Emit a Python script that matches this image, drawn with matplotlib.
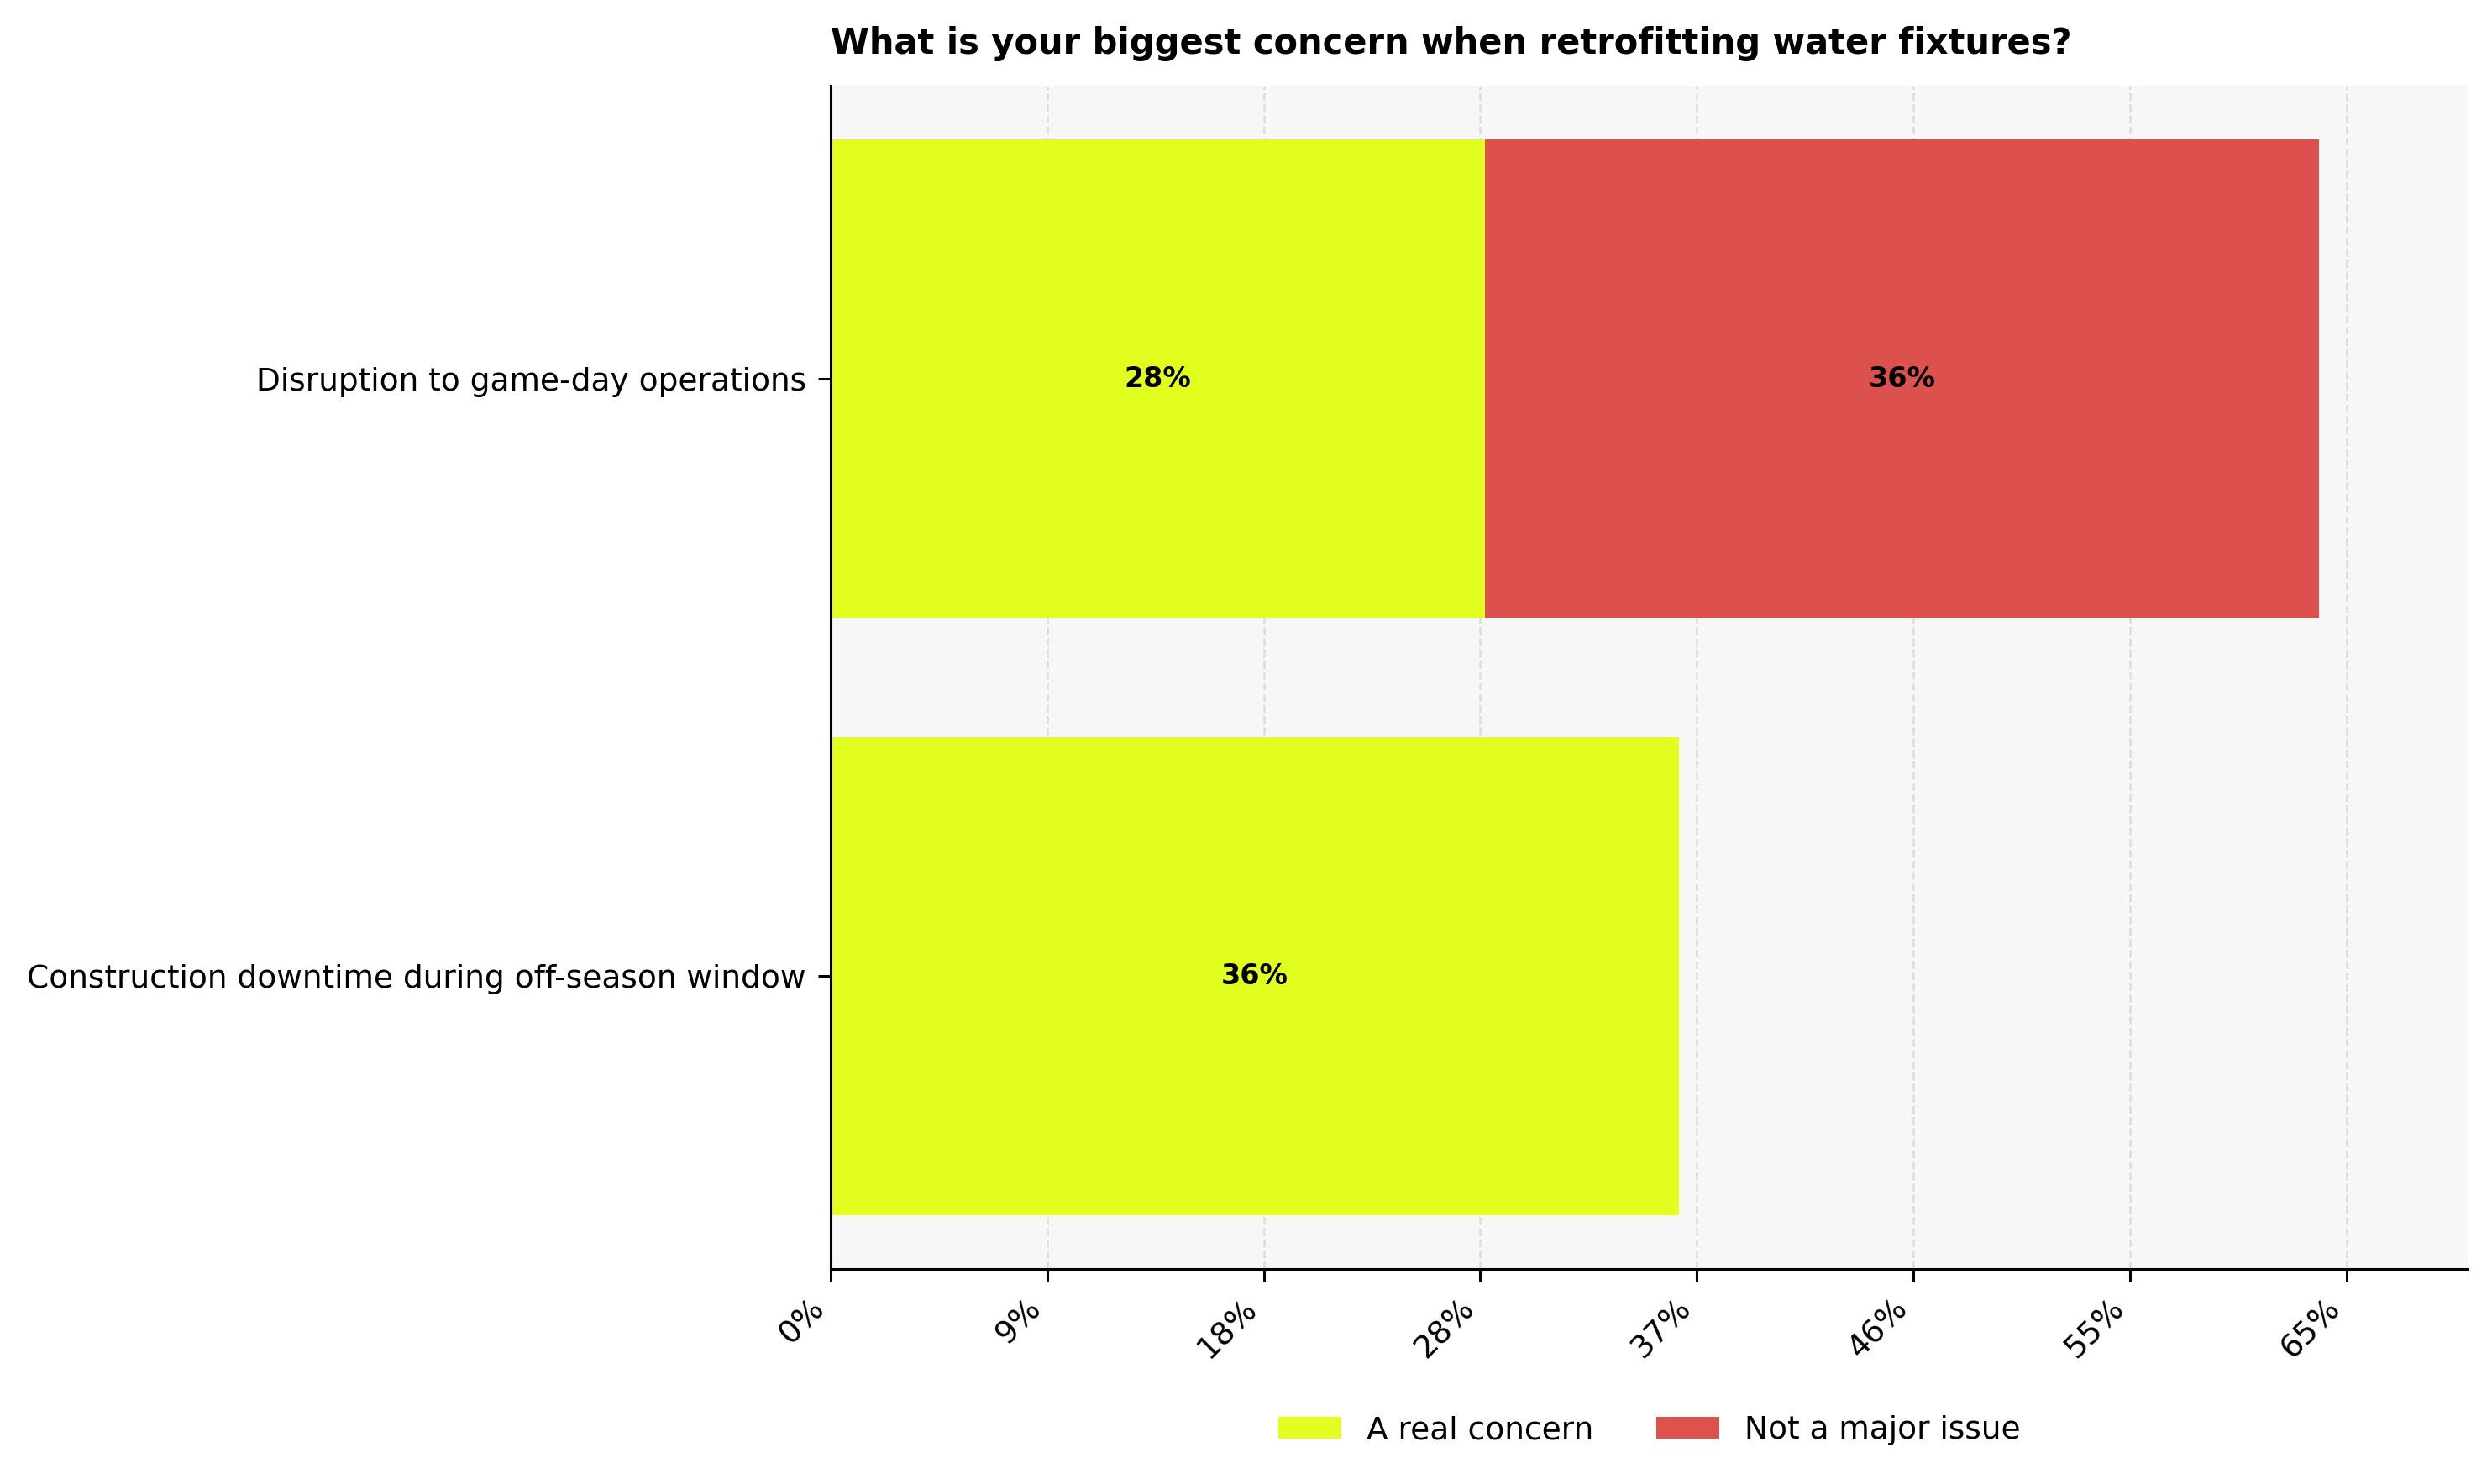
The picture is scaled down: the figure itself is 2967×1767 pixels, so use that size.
import matplotlib
matplotlib.use("Agg")
import matplotlib.pyplot as plt
import numpy as np

categories = ["Construction downtime during off-season window",
              "Disruption to game-day operations"]
series_names = ["A real concern", "Not a major issue"]
real_concern = [36.2, 27.9]
not_major = [0.0, 35.6]
tick_values = [0, 9.24, 18.48, 27.72, 36.96, 46.2, 55.44, 64.68]
tick_labels = ["0%", "9%", "18%", "28%", "37%", "46%", "55%", "65%"]
value_labels_a = ["36%", "28%"]
value_labels_b = ["", "36%"]

colors = ["#e1ff17", "#dc4c47"]

fig = plt.figure(figsize=(14.835, 8.835), dpi=200)
ax = fig.add_axes([0.3333, 0.145, 0.657, 0.797])
ax.set_facecolor("#f7f7f7")

y = np.arange(len(categories))
ax.barh(y, real_concern, height=0.8, color=colors[0], label=series_names[0], zorder=2, alpha=0.97)
ax.barh(y, not_major, left=real_concern, height=0.8, color=colors[1], label=series_names[1], zorder=2, alpha=0.97)

for i in range(len(categories)):
    if real_concern[i] > 0:
        ax.text(real_concern[i] / 2, y[i], value_labels_a[i], ha="center", va="center",
                fontsize=12, fontweight="bold", zorder=4)
    if not_major[i] > 0:
        ax.text(real_concern[i] + not_major[i] / 2, y[i], value_labels_b[i], ha="center",
                va="center", fontsize=12, fontweight="bold", zorder=4)

totals = [a + b for a, b in zip(real_concern, not_major)]
ax.set_xlim(0, max(totals) * 1.1)
ax.set_xticks(tick_values)
ax.set_xticklabels(tick_labels, rotation=45, ha="right", fontsize=13.5)
ax.set_yticks(y)
ax.set_yticklabels(categories, fontsize=13.5)

ax.grid(axis="x", linestyle="--", color="#dddddd", linewidth=0.9, zorder=0)
ax.set_axisbelow(True)
ax.spines["top"].set_visible(False)
ax.spines["right"].set_visible(False)
ax.spines["left"].set_linewidth(1.1)
ax.spines["bottom"].set_linewidth(1.1)
ax.tick_params(axis="both", length=5.25, width=1.1, pad=5.25)

ax.set_title("What is your biggest concern when retrofitting water fixtures?",
             loc="left", fontsize=15, fontweight="bold", pad=14)

ax.legend(loc="upper center", bbox_to_anchor=(0.5, -0.1), ncol=2, frameon=False,
          fontsize=13.5, handlelength=2.0, columnspacing=2.0)

fig.savefig("out.png", dpi=200)
